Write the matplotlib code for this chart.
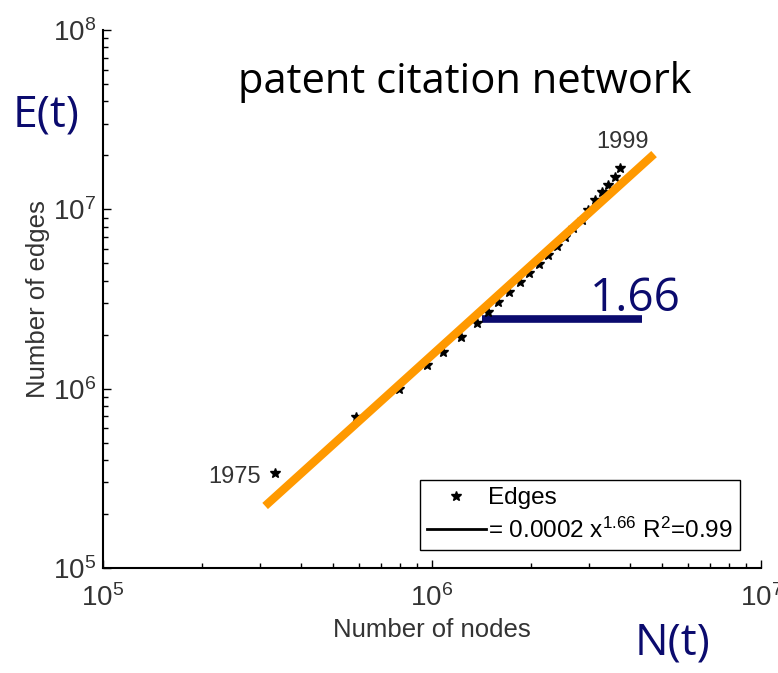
import matplotlib

matplotlib.use("Agg")
import matplotlib.pyplot as plt
import numpy as np
from matplotlib.lines import Line2D

plt.rcParams["font.family"] = ["Liberation Sans", "DejaVu Sans"]
plt.rcParams["mathtext.fontset"] = "custom"
plt.rcParams["mathtext.rm"] = "Liberation Sans"
plt.rcParams["mathtext.it"] = "Liberation Sans"
plt.rcParams["mathtext.default"] = "regular"

# yearly snapshots of the patent citation graph, 1975 .. 1999
nodes = [3.33e5, 5.87e5, 7.94e5, 9.66e5, 1.08e6, 1.225e6, 1.37e6, 1.48e6,
         1.587e6, 1.714e6, 1.851e6, 1.971e6, 2.114e6, 2.252e6, 2.399e6,
         2.537e6, 2.683e6, 2.857e6, 2.98e6, 3.13e6, 3.286e6, 3.43e6,
         3.60e6, 3.727e6]
edges = [3.39e5, 6.95e5, 9.96e5, 1.356e6, 1.602e6, 1.943e6, 2.325e6,
         2.678e6, 3.045e6, 3.462e6, 3.937e6, 4.42e6, 4.96e6, 5.57e6,
         6.25e6, 7.02e6, 7.88e6, 8.73e6, 9.92e6, 1.128e7, 1.25e7,
         1.368e7, 1.516e7, 1.702e7]
first_year, last_year = "1975", "1999"

# power-law fit E = c * N^a
fit_coef = 1.69e-4
fit_exp = 1.66
fit_r2 = 0.99
fit_range = [3.11e5, 4.73e6]

NAVY = "#0b0b6e"
ORANGE = "#ff9900"
GRAY = "#333333"

fig = plt.figure(figsize=(7.78, 6.73), dpi=100)
ax = fig.add_axes([0.1324, 0.156, 0.8458, 0.7994])
ax.set_xscale("log")
ax.set_yscale("log")
ax.set_xlim(1e5, 1e7)
ax.set_ylim(1e5, 1e8)

for side in ("top", "right"):
    ax.spines[side].set_visible(False)
for side in ("left", "bottom"):
    ax.spines[side].set_linewidth(1.5)

ax.tick_params(which="both", direction="in", colors="black",
               labelcolor=GRAY, labelsize=20, width=1.0)
ax.tick_params(which="major", length=6)
ax.tick_params(which="minor", length=3.5)
ax.tick_params(axis="x", pad=12)
ax.tick_params(axis="y", pad=5)

ax.set_xlabel("Number of nodes", fontsize=18.5, color=GRAY, labelpad=4)
ax.set_ylabel("Number of edges", fontsize=18.5, color=GRAY, labelpad=2)

ax.plot(nodes, edges, linestyle="none", marker="*", markersize=7,
        color="black", zorder=3)

fx = np.array(fit_range)
ax.plot(fx, fit_coef * fx ** fit_exp, color=ORANGE, linewidth=6,
        solid_capstyle="butt", zorder=4)

ax.annotate(first_year, (nodes[0], edges[0]), xytext=(-10, -3),
            textcoords="offset points", ha="right", va="center",
            fontsize=17, color=GRAY)
ax.annotate(last_year, (nodes[-1], edges[-1]), xytext=(2, 19),
            textcoords="offset points", ha="center", va="center",
            fontsize=17, color=GRAY)

# horizontal reference bar for the slope
ax.plot([1.42e6, 4.35e6], [2.45e6, 2.45e6], color=NAVY, linewidth=5.5,
        solid_capstyle="butt", zorder=2)
ax.text(3.02e6, 2.71e6, f"{fit_exp:.2f}", ha="left", va="baseline",
        fontsize=33, color=NAVY, family=["Open Sans", "DejaVu Sans"])

handles = [
    Line2D([], [], linestyle="none", marker="*", markersize=7, color="black"),
    Line2D([], [], color="black", linewidth=2),
]
labels = [
    "Edges",
    f"= {fit_coef:.4f} x$^{{{fit_exp:.2f}}}$ R$^2$={fit_r2:.2f}",
]
leg = ax.legend(handles, labels, loc="lower right",
                bbox_to_anchor=(0.968, 0.033), fontsize=17.5,
                frameon=True, fancybox=False, framealpha=1,
                edgecolor="black", handlelength=2.4, handletextpad=0.1,
                borderpad=0.3, labelspacing=0.35, borderaxespad=0)
leg.get_frame().set_linewidth(1.0)

fig.text(0.598, 0.878, "patent citation network", ha="center",
         va="center", fontsize=30, color="black",
         family=["Open Sans", "DejaVu Sans"])
fig.text(0.059, 0.829, "E(t)", ha="center", va="center", fontsize=32,
         color=NAVY, family=["Open Sans", "DejaVu Sans"])
fig.text(0.865, 0.044, "N(t)", ha="center", va="center", fontsize=32,
         color=NAVY, family=["Open Sans", "DejaVu Sans"])

fig.savefig("out.png", dpi=100, facecolor="white")
